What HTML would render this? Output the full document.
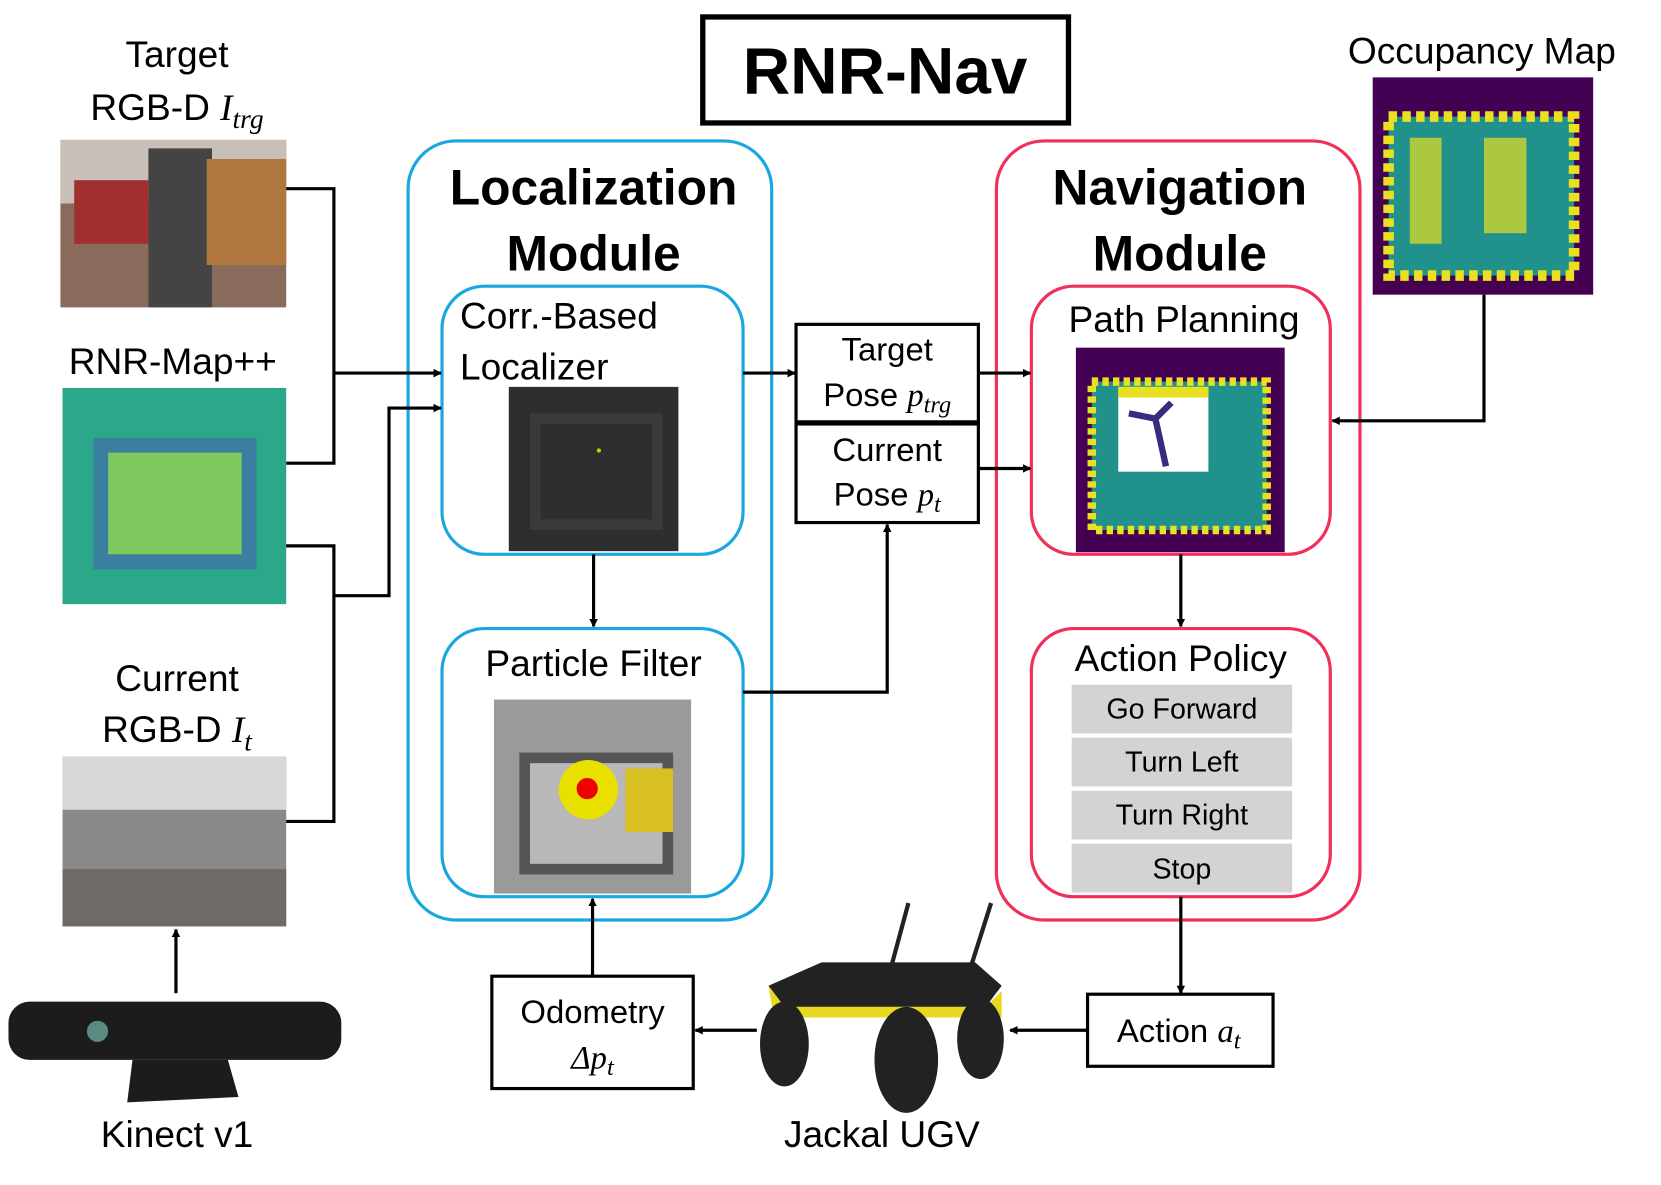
<!DOCTYPE html>
<html><head><meta charset="utf-8"><style>
html,body{margin:0;padding:0;background:#fff;overflow:hidden}
svg{display:block}
text{font-family:"Liberation Sans","Noto Sans CJK KR",sans-serif;fill:#000}
.m{font-family:"Liberation Serif",serif;font-style:italic}
</style></head><body>
<svg width="1661" height="1185" viewBox="0 0 1567 1118" preserveAspectRatio="none" xmlns="http://www.w3.org/2000/svg">
<defs>
<marker id="a" markerWidth="8" markerHeight="8" refX="7" refY="4" orient="auto" markerUnits="userSpaceOnUse"><path d="M0,0 L8,4 L0,8 z" fill="#000"/></marker>
</defs>
<rect width="1567" height="1118" fill="#fff"/>
<rect x="663" y="16" width="345" height="100" fill="none" stroke="#000" stroke-width="5"/>
<text x="835" y="88" font-size="62" font-weight="bold" text-anchor="middle">RNR-Nav</text>

<rect x="385" y="133" width="343" height="735" rx="45" fill="none" stroke="#1aa7e0" stroke-width="3"/>
<text x="560" y="193" font-size="47" font-weight="bold" text-anchor="middle">Localization</text>
<text x="560" y="255" font-size="47" font-weight="bold" text-anchor="middle">Module</text>
<rect x="417" y="270" width="284" height="253" rx="40" fill="none" stroke="#1aa7e0" stroke-width="3"/>
<text x="434" y="310" font-size="35">Corr.-Based</text>
<text x="434" y="358" font-size="35">Localizer</text>
<rect x="480" y="365" width="160" height="155" fill="#2e2e2e"/>
<rect x="505" y="395" width="115" height="100" fill="none" stroke="#3a3a3a" stroke-width="10"/>
<circle cx="565" cy="425" r="2" fill="#cc0"/>
<rect x="417" y="593" width="284" height="253" rx="40" fill="none" stroke="#1aa7e0" stroke-width="3"/>
<text x="560" y="638" font-size="35" text-anchor="middle">Particle Filter</text>
<rect x="466" y="660" width="186" height="183" fill="#9a9a9a"/>
<rect x="495" y="715" width="135" height="105" fill="#b8b8b8" stroke="#555" stroke-width="10"/>
<circle cx="555" cy="745" r="28" fill="#e8e000"/>
<circle cx="554" cy="744" r="10" fill="#e00"/>
<rect x="590" y="725" width="45" height="60" fill="#d8c020"/>

<rect x="940" y="133" width="343" height="735" rx="45" fill="none" stroke="#f0305a" stroke-width="3"/>
<text x="1113" y="193" font-size="47" font-weight="bold" text-anchor="middle">Navigation</text>
<text x="1113" y="255" font-size="47" font-weight="bold" text-anchor="middle">Module</text>
<rect x="973" y="270" width="282" height="253" rx="40" fill="none" stroke="#f0305a" stroke-width="3"/>
<text x="1117" y="313" font-size="35" text-anchor="middle">Path Planning</text>
<rect x="1015" y="328" width="197" height="193" fill="#440154"/>
<rect x="1030" y="360" width="165" height="140" fill="#21918c"/>
<rect x="1030" y="360" width="165" height="140" fill="none" stroke="#e8e020" stroke-width="8" stroke-dasharray="6 4"/>
<rect x="1055" y="365" width="85" height="80" fill="#fff"/>
<rect x="1055" y="365" width="85" height="10" fill="#e8e020"/>
<path d="M1065,390 L1090,395 L1105,380 M1090,395 L1100,440" stroke="#3b2a80" stroke-width="6" fill="none"/>
<rect x="973" y="593" width="282" height="253" rx="40" fill="none" stroke="#f0305a" stroke-width="3"/>
<text x="1114" y="633" font-size="35" text-anchor="middle">Action Policy</text>
<rect x="1011" y="646" width="208" height="46" fill="#d3d3d3"/>
<rect x="1011" y="696" width="208" height="46" fill="#d3d3d3"/>
<rect x="1011" y="746" width="208" height="46" fill="#d3d3d3"/>
<rect x="1011" y="796" width="208" height="46" fill="#d3d3d3"/>
<text x="1115" y="678" font-size="27" text-anchor="middle">Go Forward</text>
<text x="1115" y="728" font-size="27" text-anchor="middle">Turn Left</text>
<text x="1115" y="778" font-size="27" text-anchor="middle">Turn Right</text>
<text x="1115" y="829" font-size="27" text-anchor="middle">Stop</text>

<rect x="751" y="306" width="172" height="92" fill="none" stroke="#000" stroke-width="3"/>
<rect x="751" y="400" width="172" height="93" fill="none" stroke="#000" stroke-width="3"/>
<text x="837" y="340" font-size="31" text-anchor="middle">Target</text>
<text x="837" y="383" font-size="31" text-anchor="middle">Pose <tspan class="m">p</tspan><tspan class="m" font-size="23" dy="6">trg</tspan></text>
<text x="837" y="435" font-size="31" text-anchor="middle">Current</text>
<text x="837" y="477" font-size="31" text-anchor="middle">Pose <tspan class="m">p</tspan><tspan class="m" font-size="23" dy="6">t</tspan></text>

<rect x="464" y="921" width="190" height="106" fill="none" stroke="#000" stroke-width="3"/>
<text x="559" y="965" font-size="31" text-anchor="middle">Odometry</text>
<text x="559" y="1008" font-size="31" text-anchor="middle"><tspan class="m">Δp</tspan><tspan class="m" font-size="23" dy="6">t</tspan></text>
<rect x="1026" y="938" width="175" height="68" fill="none" stroke="#000" stroke-width="3"/>
<text x="1112" y="983" font-size="31" text-anchor="middle">Action <tspan class="m">a</tspan><tspan class="m" font-size="23" dy="6">t</tspan></text>

<rect x="57" y="132" width="213" height="158" fill="#8a6a5a"/>
<rect x="57" y="132" width="213" height="60" fill="#c8c0b8"/>
<rect x="140" y="140" width="60" height="150" fill="#444"/>
<rect x="70" y="170" width="70" height="60" fill="#a03030"/>
<rect x="195" y="150" width="75" height="100" fill="#b07840"/>
<rect x="59" y="366" width="211" height="204" fill="#2aa889"/>
<rect x="95" y="420" width="140" height="110" fill="#7fc860" stroke="#3a7fa0" stroke-width="14"/>
<rect x="59" y="714" width="211" height="160" fill="#8c8a88"/>
<rect x="59" y="714" width="211" height="50" fill="#d8d8d8"/>
<rect x="59" y="820" width="211" height="54" fill="#6e6a66"/>
<rect x="1295" y="73" width="208" height="205" fill="#440154"/>
<rect x="1310" y="110" width="175" height="150" fill="#21918c" stroke="#e8e020" stroke-width="10" stroke-dasharray="8 5"/>
<rect x="1330" y="130" width="30" height="100" fill="#e8e020" opacity=".7"/>
<rect x="1400" y="130" width="40" height="90" fill="#e8e020" opacity=".7"/>

<text x="167" y="63" font-size="35" text-anchor="middle">Target</text>
<text x="167" y="113" font-size="35" text-anchor="middle">RGB-D <tspan class="m">I</tspan><tspan class="m" font-size="26" dy="8">trg</tspan></text>
<text x="163" y="353" font-size="35" text-anchor="middle">RNR-Map++</text>
<text x="167" y="652" font-size="35" text-anchor="middle">Current</text>
<text x="167" y="700" font-size="35" text-anchor="middle">RGB-D <tspan class="m">I</tspan><tspan class="m" font-size="26" dy="8">t</tspan></text>
<text x="167" y="1082" font-size="35" text-anchor="middle">Kinect v1</text>
<text x="832" y="1082" font-size="35" text-anchor="middle">Jackal UGV</text>
<text x="1398" y="60" font-size="35" text-anchor="middle">Occupancy Map</text>

<rect x="8" y="945" width="314" height="55" rx="20" fill="#1c1c1c"/>
<circle cx="92" cy="973" r="10" fill="#5a8a80"/>
<path d="M125,1000 L215,1000 L225,1035 L120,1040 z" fill="#1c1c1c"/>
<line x1="840" y1="915" x2="857" y2="852" stroke="#222" stroke-width="4"/>
<line x1="915" y1="915" x2="935" y2="852" stroke="#222" stroke-width="4"/>
<path d="M725,930 L775,908 L920,908 L945,930 L930,950 L740,950 z" fill="#222"/>
<path d="M725,930 L740,950 L930,950 L945,935 L945,960 L730,960 z" fill="#e8d820"/>
<ellipse cx="740" cy="985" rx="23" ry="40" fill="#222"/>
<ellipse cx="855" cy="1000" rx="30" ry="50" fill="#222"/>
<ellipse cx="925" cy="980" rx="22" ry="38" fill="#222"/>

<g stroke="#000" stroke-width="3" fill="none">
<polyline points="270,178 315,178 315,437 270,437"/>
<line x1="315" y1="352" x2="416" y2="352" marker-end="url(#a)"/>
<polyline points="270,515 315,515 315,775 270,775"/>
<polyline points="315,562 367,562 367,385 416,385" marker-end="url(#a)"/>
<line x1="701" y1="352" x2="750" y2="352" marker-end="url(#a)"/>
<line x1="560" y1="523" x2="560" y2="591" marker-end="url(#a)"/>
<polyline points="701,653 837,653 837,495" marker-end="url(#a)"/>
<line x1="923" y1="352" x2="972" y2="352" marker-end="url(#a)"/>
<line x1="923" y1="442" x2="972" y2="442" marker-end="url(#a)"/>
<polyline points="1400,278 1400,397 1257,397" marker-end="url(#a)"/>
<line x1="1114" y1="523" x2="1114" y2="591" marker-end="url(#a)"/>
<line x1="1114" y1="846" x2="1114" y2="937" marker-end="url(#a)"/>
<line x1="1026" y1="972" x2="953" y2="972" marker-end="url(#a)"/>
<line x1="714" y1="972" x2="656" y2="972" marker-end="url(#a)"/>
<line x1="559" y1="921" x2="559" y2="848" marker-end="url(#a)"/>
<line x1="166" y1="937" x2="166" y2="877" marker-end="url(#a)"/>
</g>
</svg>
</body></html>
